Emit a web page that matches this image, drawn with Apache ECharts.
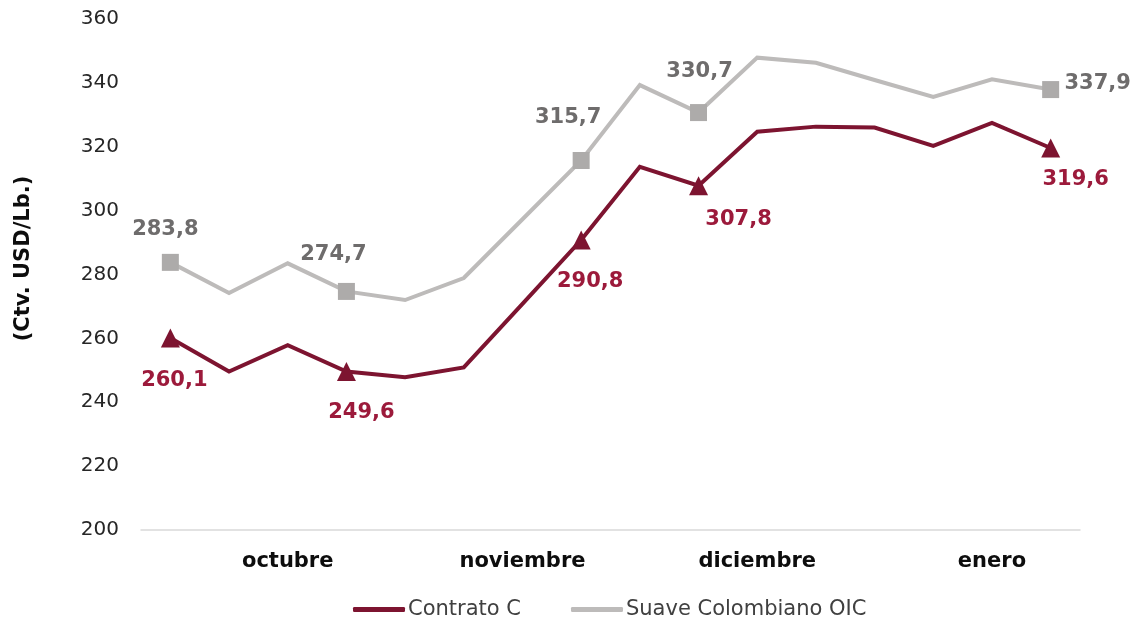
<!DOCTYPE html>
<html>
<head>
<meta charset="utf-8">
<script src="https://cdn.jsdelivr.net/npm/echarts@6/dist/echarts.min.js"></script>
<style>
  html, body { margin: 0; padding: 0; background: #fff; }
  #chart { width: 1133px; height: 622px; }
</style>
</head>
<body>
<div id="chart"></div>
<script>
// weekly points, month label shown under the 3rd week of each month
const categories = [
  'octubre', 'octubre', 'octubre', 'octubre',
  'noviembre', 'noviembre', 'noviembre', 'noviembre',
  'diciembre', 'diciembre', 'diciembre', 'diciembre',
  'enero', 'enero', 'enero', 'enero'
]
const labelIndex = [2, 6, 10, 14]

const contratoC = [260.1, 249.6, 257.9, 249.6, 247.8, 250.9, 270.8, 290.8, 313.7, 307.8, 324.7, 326.3, 326.0, 320.3, 327.5, 319.6]
const suaveOIC = [283.8, 274.2, 283.5, 274.7, 272.0, 278.9, 297.3, 315.7, 339.3, 330.7, 347.9, 346.3, 340.9, 335.6, 341.1, 337.9]

// points carrying a marker and a value label
const markedIndex = [0, 3, 7, 9, 15]

const yTicks = { min: 200, max: 360, interval: 20 }

const FONT = 'DejaVu Sans'
const RED = '#7d1430'
const RED_LABEL = '#9c1a3b'
const GRAY = '#bdbbba'
const GRAY_MARK = '#adabaa'
const GRAY_LABEL = '#6e6c6c'

// label placement (pixels from the point)
const redOffsets = { 0: [4, 42], 3: [15, 41], 7: [9, 42], 9: [40, 34], 15: [25, 32] }
const grayOffsets = { 0: [-5, -33], 3: [-13, -37], 7: [-13, -43], 9: [1, -41], 15: [47, -6] }

function fmt(v) {
  return v.toFixed(1).replace('.', ',')
}

function buildData(values, symbol, size, color, labelColor, offsets) {
  return values.map((v, i) => {
    if (markedIndex.indexOf(i) < 0) {
      return { value: v, symbol: 'none' }
    }
    return {
      value: v,
      symbol: symbol,
      symbolSize: size,
      itemStyle: { color: color },
      label: {
        show: true,
        position: 'inside',
        offset: offsets[i],
        formatter: fmt(v),
        color: labelColor,
        fontFamily: FONT,
        fontSize: 21,
        fontWeight: 'bold'
      }
    }
  })
}

const chart = echarts.init(document.getElementById('chart'))

chart.setOption({
  animation: false,
  grid: {
    left: 141,
    right: 53,
    top: 19,
    bottom: 92,
    containLabel: false
  },
  legend: {
    left: 348,
    top: 594,
    itemWidth: 52,
    itemHeight: 5,
    itemGap: 50,
    icon: 'roundRect',
    textStyle: { fontFamily: FONT, fontSize: 21, color: '#404040', padding: [0, 0, 0, -2] },
    data: ['Contrato C', 'Suave Colombiano OIC']
  },
  xAxis: {
    type: 'category',
    data: categories,
    boundaryGap: true,
    axisLine: { lineStyle: { color: '#d9d9d9', width: 1.5 } },
    axisTick: { show: false },
    axisLabel: {
      interval: (i) => labelIndex.indexOf(i) >= 0,
      margin: 21,
      fontFamily: FONT,
      fontSize: 21,
      fontWeight: 'bold',
      color: '#0d0d0d'
    },
    splitLine: { show: false }
  },
  yAxis: {
    type: 'value',
    min: yTicks.min,
    max: yTicks.max,
    interval: yTicks.interval,
    name: '(Ctv. USD/Lb.)',
    nameLocation: 'middle',
    nameRotate: 90,
    nameGap: 107,
    nameTextStyle: {
      fontFamily: FONT,
      fontSize: 21,
      fontWeight: 'bold',
      color: '#0d0d0d',
      padding: [0, 0, 0, 32]
    },
    axisLine: { show: false },
    axisTick: { show: false },
    splitLine: { show: false },
    axisLabel: {
      margin: 22,
      fontFamily: FONT,
      fontSize: 20,
      color: '#262626'
    }
  },
  series: [
    {
      name: 'Contrato C',
      type: 'line',
      showSymbol: true,
      symbol: 'none',
      z: 3,
      lineStyle: { color: RED, width: 4, join: 'miter' },
      itemStyle: { color: RED },
      data: buildData(contratoC, 'triangle', 19, RED, RED_LABEL, redOffsets)
    },
    {
      name: 'Suave Colombiano OIC',
      type: 'line',
      showSymbol: true,
      symbol: 'none',
      z: 2,
      lineStyle: { color: GRAY, width: 4, join: 'miter' },
      itemStyle: { color: GRAY },
      data: buildData(suaveOIC, 'rect', 17, GRAY_MARK, GRAY_LABEL, grayOffsets)
    }
  ]
})
</script>
</body>
</html>
